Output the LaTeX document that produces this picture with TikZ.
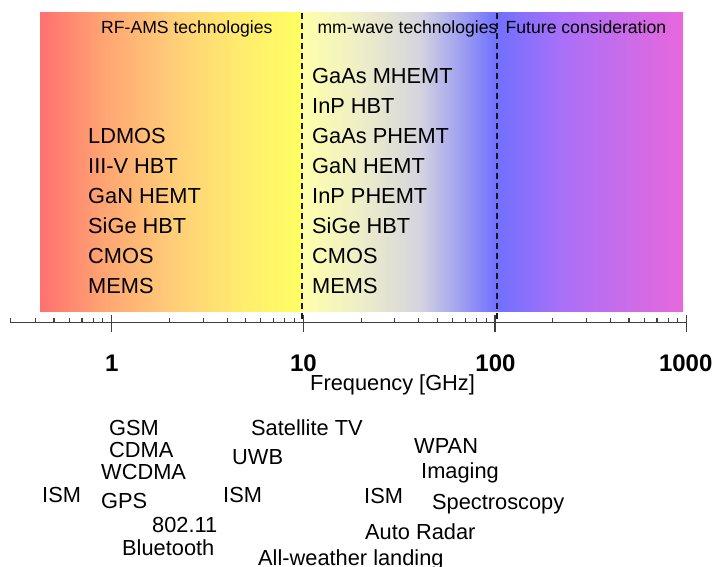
\documentclass[tikz,border=0pt]{standalone}
\usepackage{fontspec}
\setmainfont{Liberation Sans}
\begin{document}
\begin{tikzpicture}[x=1pt,y=-1pt,
  lbl/.style={inner sep=0pt,anchor=base west,font=\fontsize{21.8}{24}\selectfont},
  head/.style={inner sep=0pt,anchor=base west,font=\fontsize{17.6}{20}\selectfont},
  ticklbl/.style={inner sep=0pt,anchor=base,font=\bfseries\fontsize{24}{28}\selectfont},
  divider/.style={line width=2pt,dash pattern=on 6pt off 4pt,black!90},
  axisline/.style={line width=1.1pt,black!75}]
\definecolor{g1}{HTML}{FF7070}
\definecolor{g2}{HTML}{FFA272}
\definecolor{g3}{HTML}{FFCC78}
\definecolor{g4}{HTML}{FFEC6E}
\definecolor{g5}{HTML}{FFFF62}
\definecolor{g6}{HTML}{FFFFAA}
\definecolor{g7}{HTML}{EEEEC8}
\definecolor{g8}{HTML}{D4D4E0}
\definecolor{g9}{HTML}{7070FF}
\definecolor{g10}{HTML}{A870F8}
\definecolor{g11}{HTML}{E868DC}
\useasboundingbox (0,0) rectangle (720,567);
\fill[white] (0,0) rectangle (720,567);
% gradient band
\shade[left color=g1,right color=g2] (40,13) rectangle (100.5,311);
\shade[left color=g2,right color=g3] (100,13) rectangle (170.5,311);
\shade[left color=g3,right color=g4] (170,13) rectangle (240.5,311);
\shade[left color=g4,right color=g5] (240,13) rectangle (302.5,311);
\shade[left color=g6,right color=g7] (302,13) rectangle (360.5,311);
\shade[left color=g7,right color=g8] (360,13) rectangle (420.5,311);
\shade[left color=g8,right color=g9] (420,13) rectangle (497,311);
\shade[left color=g9,right color=g10] (496.5,13) rectangle (560.5,311);
\shade[left color=g10,right color=g11] (560,13) rectangle (683,311);
% dividers
\draw[divider] (302,13) -- (302,319);
\draw[divider] (496.7,13) -- (496.7,319);
% axis
\draw[axisline] (10.7,322.5) -- (686.7,322.5);
\draw[axisline] (10.7,322.5) -- ++(0,-5);
\foreach \m in {4,...,9}
  \draw[axisline] ({111.7+191.67*(log10(\m)-1)},322.5) -- ++(0,-5);
\foreach \d in {0,1,2}
  \foreach \m in {2,...,9}
    \draw[axisline] ({111.7+191.67*(\d+log10(\m))},322.5) -- ++(0,-5);
\foreach \d in {0,1,2,3}
  \draw[axisline] ({111.7+191.67*\d},315) -- ++(0,17);
% tick labels
\node[ticklbl] (t1) at (111.7,371.7) {1};
\node[ticklbl] (t10) at (303.4,371.7) {10};
\node[ticklbl] (t100) at (495.5,371.7) {100};
\node[ticklbl] (t1000) at (685.7,371.7) {1000};
\node[lbl] (freq) at (310,390) {Frequency [GHz]};
% headings
\node[head] (h1) at (101,34) {RF-AMS technologies};
\node[head] (h2) at (317.3,34) {mm-wave technologies};
\node[head] (h3) at (505.5,33.5) {Future consideration};
% left list
\node[lbl] (a1) at (88,143.3) {LDMOS};
\node[lbl] (a2) at (88,173.3) {III-V HBT};
\node[lbl] (a3) at (88,203.3) {GaN HEMT};
\node[lbl] (a4) at (88,233.3) {SiGe HBT};
\node[lbl] (a5) at (88,263.3) {CMOS};
\node[lbl] (a6) at (88,293.3) {MEMS};
% middle list
\node[lbl] (b1) at (312,83.3) {GaAs MHEMT};
\node[lbl] (b2) at (312,113.3) {InP HBT};
\node[lbl] (b3) at (312,143.3) {GaAs PHEMT};
\node[lbl] (b4) at (312,173.3) {GaN HEMT};
\node[lbl] (b5) at (312,203.3) {InP PHEMT};
\node[lbl] (b6) at (312,233.3) {SiGe HBT};
\node[lbl] (b7) at (312,263.3) {CMOS};
\node[lbl] (b8) at (312,293.3) {MEMS};
% applications
\node[lbl] (c1) at (109,435) {GSM};
\node[lbl] (c2) at (109,457) {CDMA};
\node[lbl] (c3) at (101,479) {WCDMA};
\node[lbl] (c4) at (42,502) {ISM};
\node[lbl] (c5) at (101,508) {GPS};
\node[lbl] (c6) at (152,532) {802.11};
\node[lbl] (c7) at (122,555) {Bluetooth};
\node[lbl] (d1) at (251,435) {Satellite TV};
\node[lbl] (d2) at (232,464) {UWB};
\node[lbl] (d3) at (223,502) {ISM};
\node[lbl] (d4) at (258,565.5) {All-weather landing};
\node[lbl] (e1) at (414,453) {WPAN};
\node[lbl] (e2) at (421,478) {Imaging};
\node[lbl] (e3) at (364,503) {ISM};
\node[lbl] (e4) at (432,509) {Spectroscopy};
\node[lbl] (e5) at (365,539) {Auto Radar};
\end{tikzpicture}
\end{document}
